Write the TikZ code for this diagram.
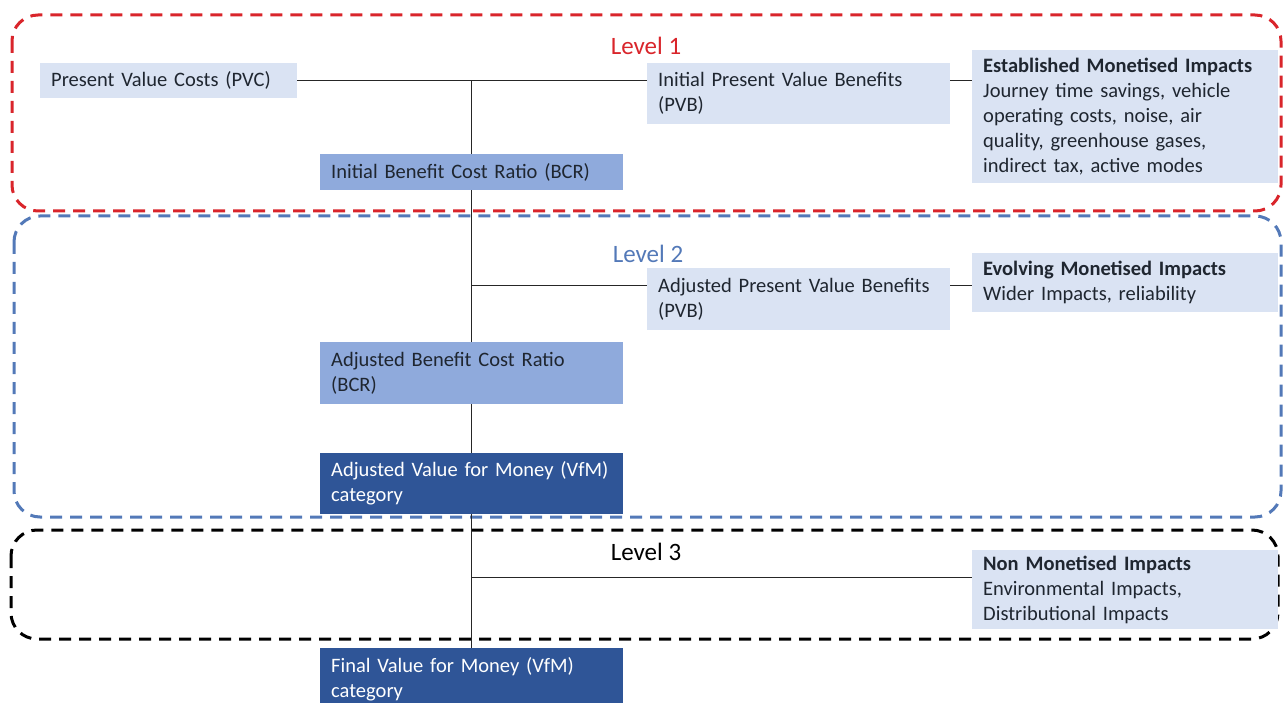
\documentclass[tikz,border=0pt]{standalone}
\usepackage{fontspec}
\setmainfont{Carlito}
\usetikzlibrary{calc}
\definecolor{boxlight}{HTML}{DAE3F3}
\definecolor{boxmid}{HTML}{8FAADC}
\definecolor{boxdark}{HTML}{2F5597}
\definecolor{lvlred}{HTML}{D9252B}
\definecolor{lvlblue}{HTML}{5379B8}
\definecolor{txt}{HTML}{1F2630}
\begin{document}
\begin{tikzpicture}[x=1pt,y=-1pt,
  every node/.style={font=\fontsize{20.5}{25}\selectfont, text=txt},
  panel/.style={anchor=north west, inner xsep=11pt, inner ysep=0pt, align=left},
  lightbox/.style={panel, fill=boxlight},
  midbox/.style={panel, fill=boxmid},
  darkbox/.style={panel, fill=boxdark, text=white},
  levelframe/.style={line width=3pt, dash pattern=on 12pt off 8pt, rounded corners=26pt},
  leveltitle/.style={font=\fontsize{25}{28}\selectfont},
  link/.style={draw=black!85, line width=1pt}
]
\useasboundingbox (0,0) rectangle (1288,703);

% level frames
\draw[levelframe, draw=lvlred] (12,15) rectangle (1281,211);
\draw[levelframe, draw=lvlblue] (14,216) rectangle (1281,517);
\draw[levelframe, draw=black] (11,530) rectangle (1278,639);

\node[leveltitle, text=lvlred] (lv1) at (646,46) {Level 1};
\node[leveltitle, text=lvlblue] (lv2) at (648,254) {Level 2};
\node[leveltitle, text=black] (lv3) at (646,552) {Level 3};

% level 1
\node[lightbox, minimum height=35pt, text width=235pt] (pvc) at (40,63) {Present Value Costs (PVC)};
\node[lightbox, minimum height=61pt, text width=281pt] (ipvb) at (647,63) {Initial Present Value Benefits\\(PVB)};
\node[lightbox, minimum height=133pt, text width=284pt] (est) at (972,50)
  {\textbf{Established Monetised Impacts}\\Journey time savings, vehicle\\operating costs, noise, air\\quality, greenhouse gases,\\indirect tax, active modes};
\node[midbox, minimum height=36pt, text width=281pt] (ibcr) at (320,154) {Initial Benefit Cost Ratio (BCR)};

% level 2
\node[lightbox, minimum height=62pt, text width=281pt] (apvb) at (647,268) {Adjusted Present Value Benefits\\(PVB)};
\node[lightbox, minimum height=59pt, text width=284pt] (evo) at (972,253)
  {\textbf{Evolving Monetised Impacts}\\Wider Impacts, reliability};
\node[midbox, minimum height=62pt, text width=281pt] (abcr) at (320,342) {Adjusted Benefit Cost Ratio\\(BCR)};
\node[darkbox, minimum height=61pt, text width=281pt] (avfm) at (320,453) {Adjusted Value for Money (VfM)\\category};

% level 3
\node[lightbox, minimum height=79pt, text width=284pt] (nmi) at (972,550)
  {\textbf{Non Monetised Impacts}\\Environmental Impacts,\\Distributional Impacts};
\node[darkbox, minimum height=62pt, text width=281pt] (fvfm) at (320,648) {Final Value for Money (VfM)\\category};

% junctions on the trunk
\coordinate (j1) at (pvc.east -| ibcr.north);
\coordinate (j2) at ($(apvb.north west)+(0,18)$);
\coordinate (j3) at ($(nmi.north west)+(0,27)$);

% connectors
\draw[link] (pvc.east) -- (pvc.east -| ipvb.west);
\draw[link] (ipvb.east |- pvc.east) -- (pvc.east -| est.west);
\draw[link] (j1) -- (ibcr.north);
\draw[link] (ibcr.south) -- (abcr.north);
\draw[link] (j2 -| ibcr.south) -- (j2);
\draw[link] (apvb.east |- j2) -- (j2 -| evo.west);
\draw[link] (abcr.south) -- (avfm.north);
\draw[link] (avfm.south) -- (fvfm.north);
\draw[link] (j3 -| fvfm.north) -- (j3);
\end{tikzpicture}
\end{document}
